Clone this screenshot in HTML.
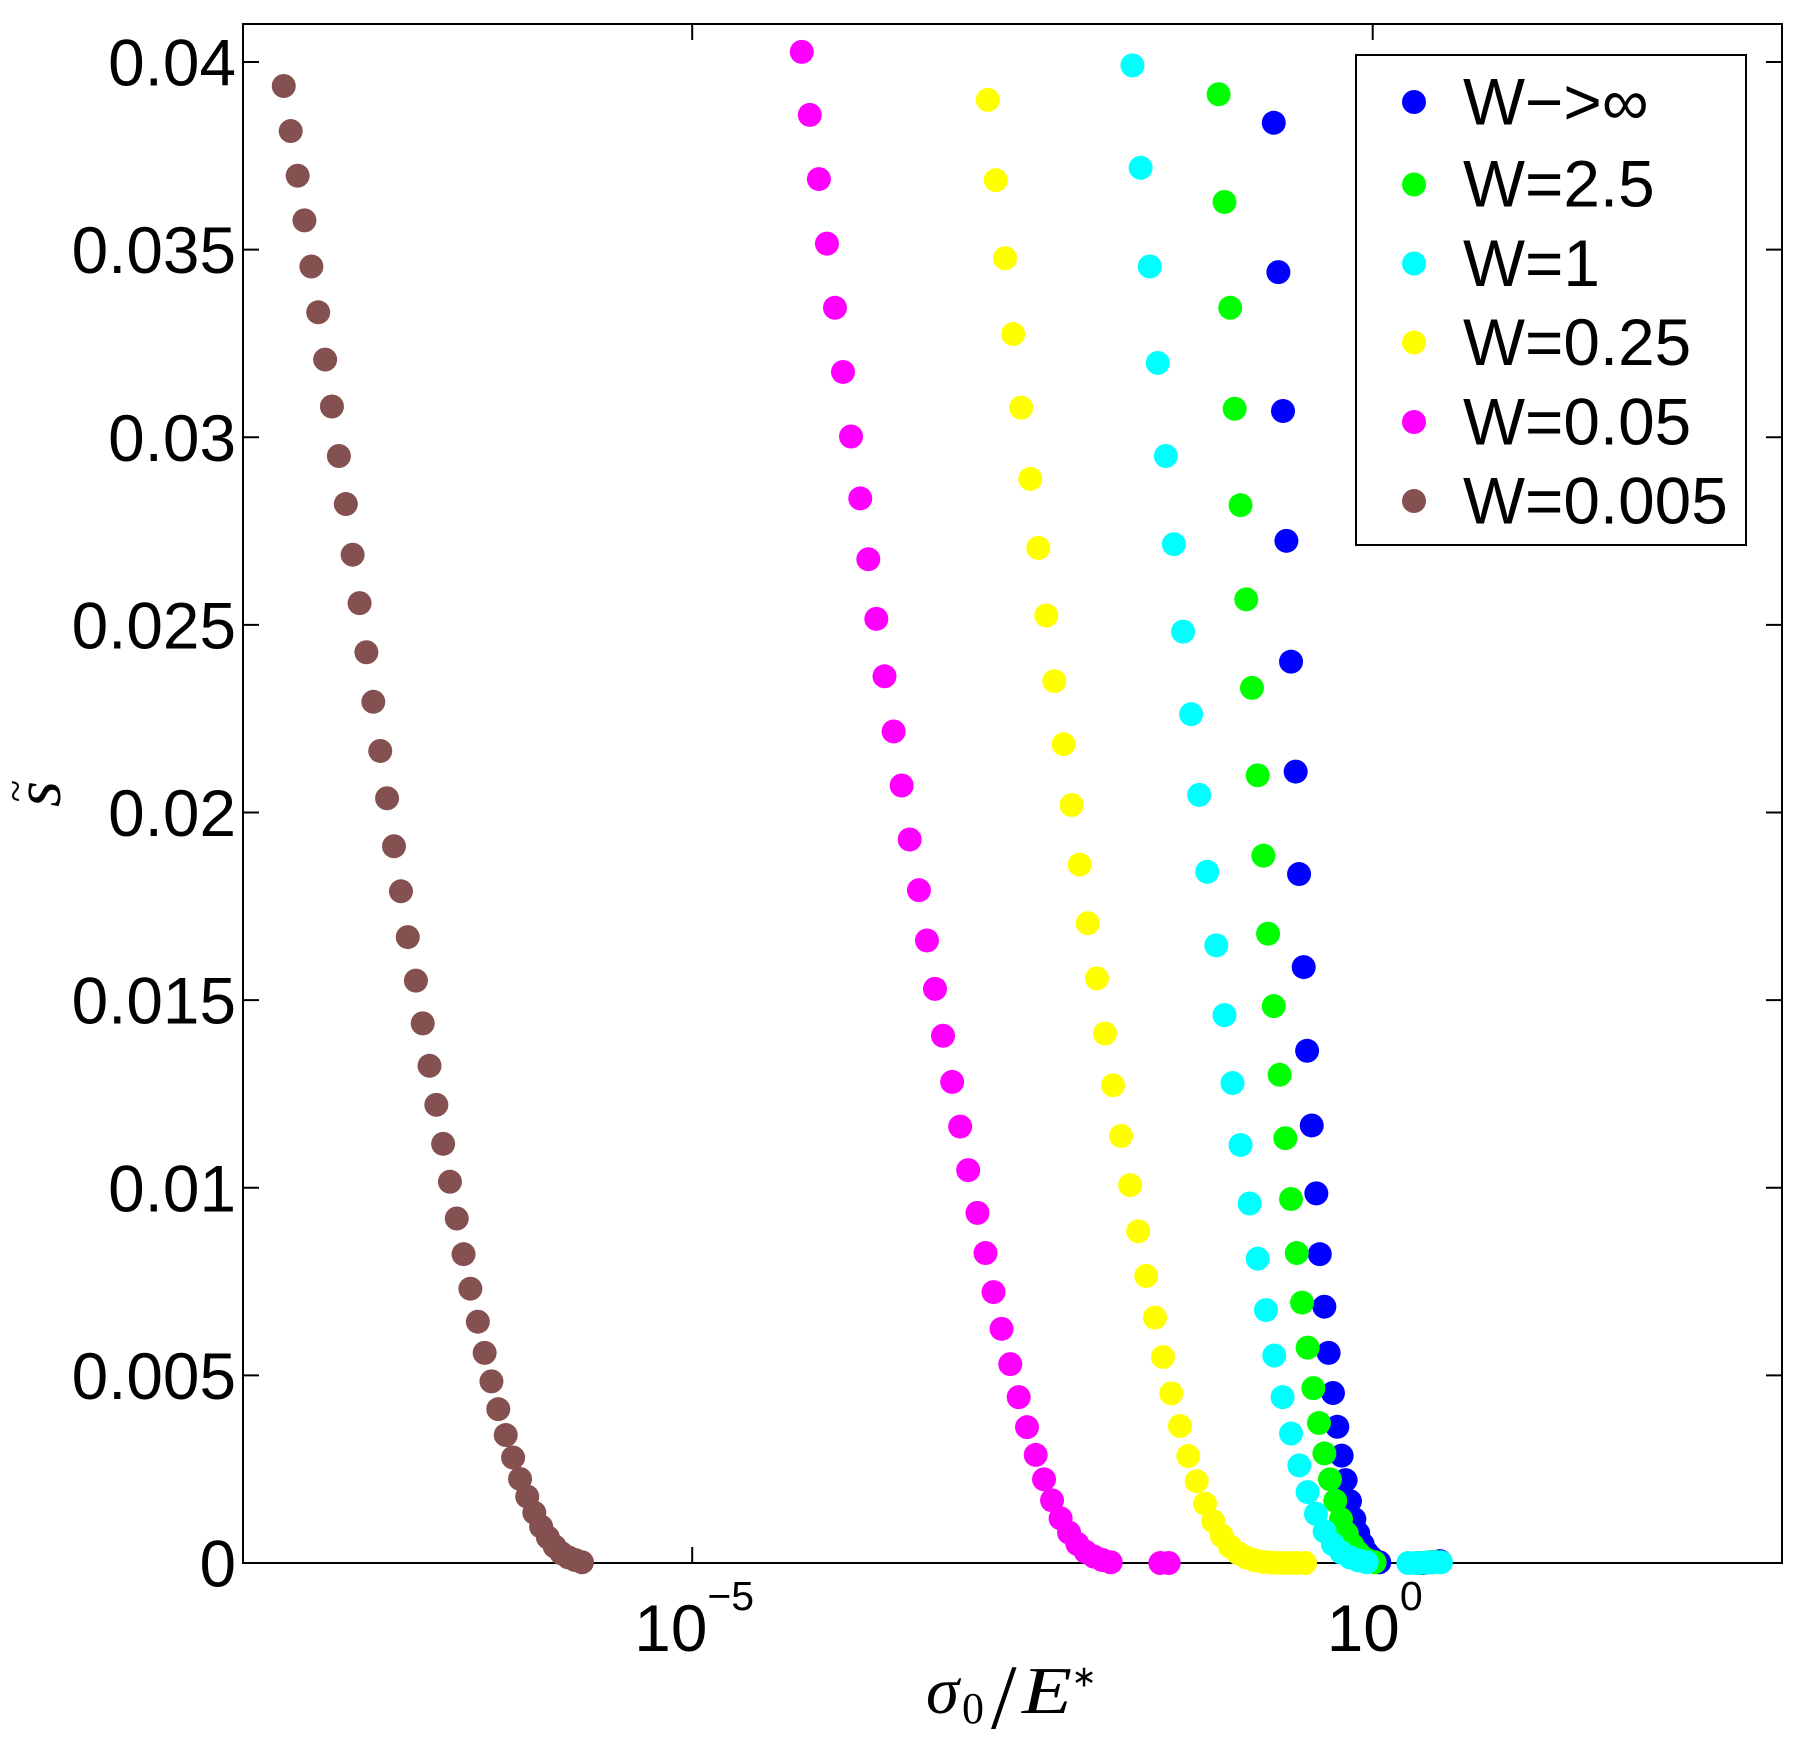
<!DOCTYPE html>
<html lang="en">
<head>
<meta charset="utf-8">
<title>s versus sigma0/E* scatter chart</title>
<style>
html,body{margin:0;padding:0;background:#fff;}
svg{display:block;}
text{fill:#000;font-family:"Liberation Sans",sans-serif;}
.tick{font-size:65.7px;}
.serif{font-family:"Liberation Serif",serif;}
</style>
</head>
<body>
<svg id="chart" xmlns="http://www.w3.org/2000/svg" width="1801" height="1749" viewBox="0 0 1801 1749">
  <rect x="0" y="0" width="1801" height="1749" fill="#fff"/>
  <g id="axes"></g>
  <rect x="243" y="24" width="1539" height="1539" fill="none" stroke="#000" stroke-width="2" shape-rendering="crispEdges"/>
  <g id="marks"></g>

  <g>
    <text class="serif" font-size="67" font-style="italic" text-anchor="middle" transform="translate(60 794) rotate(-90)">s</text>
    <text class="serif" font-size="41" text-anchor="middle" transform="translate(29 791) rotate(-90)">~</text>
  </g>

  <g>
    <text class="serif" font-size="67" font-style="italic" x="926" y="1713">σ</text>
    <text class="serif" font-size="44" x="962" y="1723">0</text>
    <text class="serif" font-size="92" x="991" y="1728">/</text>
    <text class="serif" font-size="67" font-style="italic" x="1022" y="1713" textLength="50" lengthAdjust="spacingAndGlyphs">E</text>
    <text class="serif" font-size="30" x="1071.5" y="1686.5">∗</text>
  </g>

  <g>
    <rect x="1356" y="55" width="390" height="490" fill="#fff" stroke="#000" stroke-width="2" shape-rendering="crispEdges"/>
    <g>
      <circle cx="1414" cy="102" r="12" fill="#0000ff"/>
      <text class="tick" x="1463" y="124.5">W−&gt;∞</text>
    </g>
    <g>
      <circle cx="1414" cy="184.5" r="12" fill="#00ff00"/>
      <text class="tick" x="1463" y="206.5">W=2.5</text>
    </g>
    <g>
      <circle cx="1414" cy="263.5" r="12" fill="#00ffff"/>
      <text class="tick" x="1463" y="286">W=1</text>
    </g>
    <g>
      <circle cx="1414" cy="342.5" r="12" fill="#ffff00"/>
      <text class="tick" x="1463" y="365">W=0.25</text>
    </g>
    <g>
      <circle cx="1414" cy="422" r="12" fill="#ff00ff"/>
      <text class="tick" x="1463" y="444.5">W=0.05</text>
    </g>
    <g>
      <circle cx="1414" cy="501" r="12" fill="#855050"/>
      <text class="tick" x="1463" y="523.5">W=0.005</text>
    </g>
  </g>
</svg>

<script>
// Tick values and labels
const yTickValues = [0, 0.005, 0.01, 0.015, 0.02, 0.025, 0.03, 0.035, 0.04];
const yTickLabels = ['0', '0.005', '0.01', '0.015', '0.02', '0.025', '0.03', '0.035', '0.04'];
const xTickExponents = [-5, 0];
const xTickLabels = ['\u22125', '0'];

// Series values: x as log10(sigma0/E*), y as s-tilde
const blueX = [-0.727,-0.693,-0.659,-0.634,-0.600,-0.566,-0.541,-0.507,-0.482,-0.448,-0.414,-0.389,-0.355,-0.324,-0.292,-0.260,-0.228,-0.199,-0.167,-0.135,-0.106,-0.074,-0.044,-0.012,0.017,0.048,0.371,0.433,0.494];
const blueY = [0.03838,0.03440,0.03070,0.02724,0.02402,0.02109,0.01836,0.01588,0.01365,0.01166,0.00985,0.00823,0.00683,0.00560,0.00453,0.00363,0.00286,0.00221,0.00165,0.00117,0.00079,0.00050,0.00028,0.00015,0.00006,0.00002,0,0.00002,0.00005];

const greenX = [-1.132,-1.089,-1.047,-1.014,-0.971,-0.929,-0.887,-0.845,-0.803,-0.769,-0.727,-0.684,-0.642,-0.600,-0.558,-0.519,-0.478,-0.436,-0.395,-0.355,-0.314,-0.275,-0.233,-0.191,-0.150,-0.108,-0.069,-0.027,0.014,0.335,0.396,0.458];
const greenY = [0.03914,0.03627,0.03345,0.03076,0.02819,0.02568,0.02332,0.02099,0.01885,0.01677,0.01484,0.01301,0.01132,0.00970,0.00826,0.00694,0.00574,0.00466,0.00373,0.00292,0.00223,0.00166,0.00117,0.00079,0.00048,0.00028,0.00014,0.00006,0.00002,0,0.00001,0.00003];

const cyanX = [-1.765,-1.705,-1.638,-1.579,-1.520,-1.461,-1.393,-1.334,-1.275,-1.216,-1.149,-1.089,-1.030,-0.971,-0.904,-0.845,-0.784,-0.723,-0.662,-0.600,-0.539,-0.478,-0.417,-0.353,-0.292,-0.230,-0.167,-0.106,-0.044,0.262,0.323,0.384,0.445,0.501];
const cyanY = [0.03991,0.03718,0.03455,0.03198,0.02950,0.02715,0.02482,0.02262,0.02047,0.01842,0.01646,0.01460,0.01279,0.01114,0.00958,0.00811,0.00674,0.00553,0.00442,0.00345,0.00260,0.00189,0.00131,0.00084,0.00050,0.00028,0.00015,0.00007,0.00002,0,0,0.00001,0.00002,0.00002];

const yellowX = [-2.828,-2.769,-2.701,-2.642,-2.583,-2.516,-2.457,-2.398,-2.339,-2.271,-2.212,-2.153,-2.094,-2.026,-1.967,-1.908,-1.849,-1.782,-1.723,-1.664,-1.600,-1.541,-1.480,-1.416,-1.355,-1.293,-1.232,-1.171,-1.110,-1.048,-0.987,-0.926,-0.865,-0.804,-0.742,-0.681,-0.620,-0.559,-0.497];
const yellowY = [0.03899,0.03685,0.03477,0.03275,0.03079,0.02889,0.02705,0.02525,0.02350,0.02182,0.02020,0.01861,0.01705,0.01558,0.01411,0.01273,0.01138,0.01007,0.00884,0.00765,0.00654,0.00549,0.00452,0.00365,0.00285,0.00218,0.00158,0.00111,0.00073,0.00044,0.00026,0.00014,0.00007,0.00003,0.00001,0,0,0,0];

const magentaX = [-4.195,-4.136,-4.069,-4.010,-3.951,-3.892,-3.833,-3.765,-3.706,-3.647,-3.587,-3.520,-3.461,-3.402,-3.334,-3.275,-3.216,-3.157,-3.090,-3.031,-2.972,-2.904,-2.845,-2.786,-2.727,-2.663,-2.601,-2.540,-2.476,-2.415,-2.356,-2.293,-2.231,-2.170,-2.109,-2.048,-1.987,-1.925,-1.560,-1.499];
const magentaY = [0.04027,0.03859,0.03688,0.03516,0.03345,0.03174,0.03002,0.02837,0.02675,0.02516,0.02363,0.02216,0.02072,0.01928,0.01793,0.01659,0.01530,0.01405,0.01282,0.01163,0.01047,0.00933,0.00826,0.00722,0.00624,0.00530,0.00442,0.00362,0.00288,0.00223,0.00167,0.00119,0.00081,0.00051,0.00030,0.00017,0.00008,0.00002,0,0];

const brownX = [-8.001,-7.950,-7.899,-7.849,-7.798,-7.748,-7.697,-7.647,-7.596,-7.545,-7.495,-7.444,-7.394,-7.343,-7.292,-7.242,-7.191,-7.140,-7.090,-7.030,-6.980,-6.930,-6.880,-6.830,-6.780,-6.730,-6.680,-6.630,-6.575,-6.525,-6.475,-6.425,-6.370,-6.316,-6.265,-6.212,-6.160,-6.110,-6.060,-6.010,-5.960,-5.910,-5.860,-5.810];
const brownY = [0.03936,0.03816,0.03697,0.03578,0.03455,0.03333,0.03207,0.03082,0.02950,0.02822,0.02687,0.02558,0.02427,0.02295,0.02164,0.02038,0.01910,0.01790,0.01668,0.01552,0.01438,0.01325,0.01221,0.01117,0.01016,0.00918,0.00823,0.00731,0.00643,0.00560,0.00484,0.00410,0.00341,0.00281,0.00224,0.00177,0.00134,0.00097,0.00068,0.00044,0.00026,0.00015,0.00008,0.00002];

// Axis functions
function xScale(exp) { return 1372.7 + 136.1 * exp; }
function yScale(v) { return 1563 - v * 37525; }

const NS = 'http://www.w3.org/2000/svg';
const axes = document.getElementById('axes');
const marks = document.getElementById('marks');

function tickLine(x1, y1, x2, y2) {
  const l = document.createElementNS(NS, 'line');
  l.setAttribute('x1', x1);
  l.setAttribute('y1', y1);
  l.setAttribute('x2', x2);
  l.setAttribute('y2', y2);
  l.setAttribute('stroke', '#000');
  l.setAttribute('stroke-width', '2');
  
  
  axes.appendChild(l);
}

yTickValues.forEach(function (v, i) {
  const y = yScale(v);
  tickLine(243, y, 259, y);
  tickLine(1766, y, 1782, y);
  const t = document.createElementNS(NS, 'text');
  t.setAttribute('class', 'tick');
  t.setAttribute('x', 236);
  t.setAttribute('y', y + 23.5);
  t.setAttribute('text-anchor', 'end');
  
  
  t.textContent = yTickLabels[i];
  axes.appendChild(t);
});

xTickExponents.forEach(function (e, i) {
  const x = xScale(e);
  tickLine(x, 1563, x, 1547);
  tickLine(x, 24, x, 40);
  const t = document.createElementNS(NS, 'text');
  t.setAttribute('class', 'tick');
  t.setAttribute('x', x + 2);
  t.setAttribute('y', 1651);
  t.setAttribute('text-anchor', 'middle');
  
  
  t.appendChild(document.createTextNode('10'));
  const s = document.createElementNS(NS, 'tspan');
  s.setAttribute('dy', '-41');
  s.setAttribute('font-size', '41');
  
  
  s.textContent = xTickLabels[i];
  t.appendChild(s);
  axes.appendChild(t);
});

function drawSeries(xs, ys, color, name) {
  const g = document.createElementNS(NS, 'g');
  
  
  xs.forEach(function (xv, i) {
    const c = document.createElementNS(NS, 'circle');
    c.setAttribute('cx', xScale(xv).toFixed(2));
    c.setAttribute('cy', yScale(ys[i]).toFixed(2));
    c.setAttribute('r', '12');
    c.setAttribute('fill', color);
    
    
    g.appendChild(c);
  });
  marks.appendChild(g);
}

drawSeries(blueX, blueY, '#0000ff', 'series-w-infinity');
drawSeries(greenX, greenY, '#00ff00', 'series-w-2-5');
drawSeries(cyanX, cyanY, '#00ffff', 'series-w-1');
drawSeries(yellowX, yellowY, '#ffff00', 'series-w-0-25');
drawSeries(magentaX, magentaY, '#ff00ff', 'series-w-0-05');
drawSeries(brownX, brownY, '#855050', 'series-w-0-005');
</script>
</body>
</html>
